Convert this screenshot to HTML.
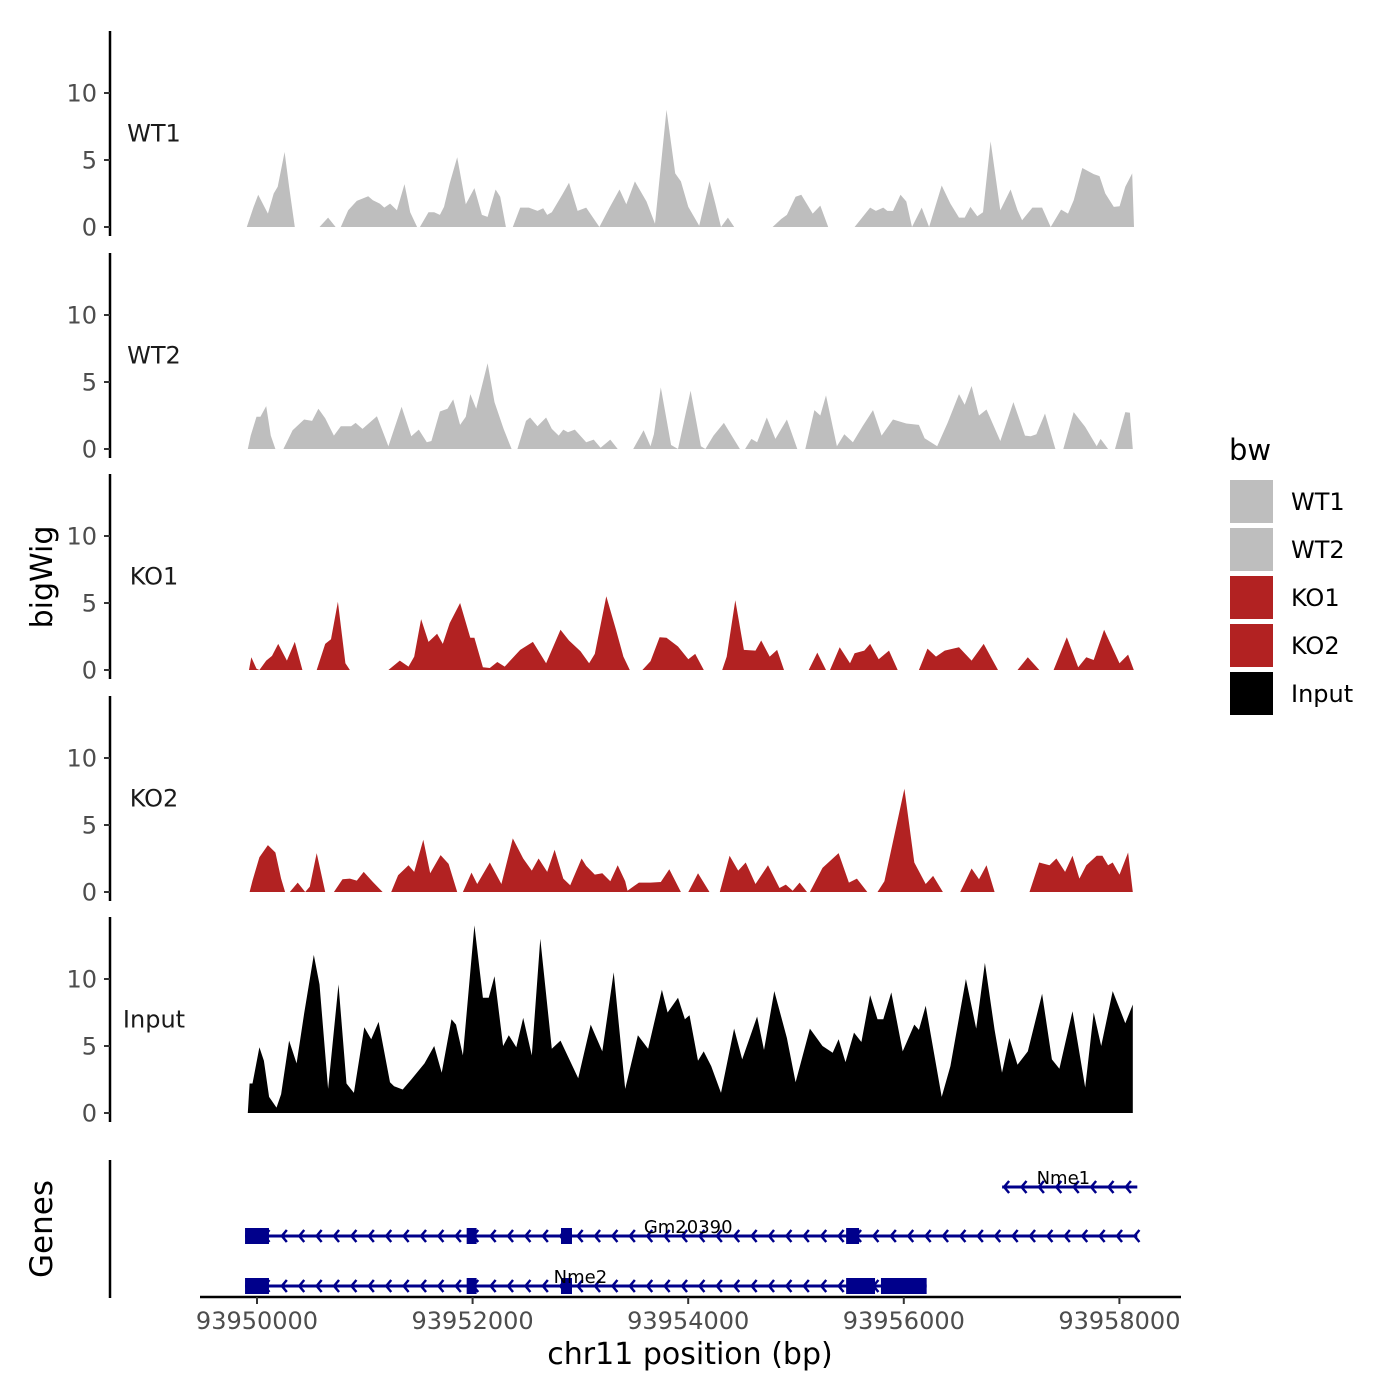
<!DOCTYPE html>
<html><head><meta charset="utf-8"><style>
html,body{margin:0;padding:0;background:#fff;}
svg{display:block;font-family:"DejaVu Sans","Liberation Sans",sans-serif;}
</style></head><body>
<svg id="chart" width="1400" height="1400" viewBox="0 0 1400 1400" xmlns="http://www.w3.org/2000/svg"></svg>
<script>
// positions: bp offsets relative to 93950000; values: coverage (null breaks a segment)
const ORIGIN = 93950000;
const trackNames = ["WT1","WT2","KO1","KO2","Input"];
const wt1Pos = [-95,-32,11,101,155,192,256,298,351,null,580,660,729,null,777,846,926,1032,1075,1139,1181,1235,1298,1368,1421,1485,null,1511,1591,1644,1697,1735,1788,1857,1937,2017,2086,2139,2213,2256,2309,null,2373,2442,2522,2602,2655,2692,2735,2831,2894,2974,3054,3176,3267,3363,3426,3506,3613,3692,3799,3879,3932,4001,4102,4198,4251,4304,4368,4427,null,4783,4863,4916,4996,5049,5155,5225,5299,null,5544,5687,5741,5810,5847,5900,5969,6023,6076,6166,6235,6352,6432,6512,6565,6618,6682,6735,6805,6895,6991,7055,7097,7193,7283,7363,7459,7523,7576,7656,7762,7815,7869,7948,8002,8055,8119,8135];
const wt1Val = [0,1.5,2.4,1.0,2.5,3.0,5.6,3.0,0,null,0,0.7,0,null,0,1.25,1.95,2.3,2.0,1.75,1.45,1.75,1.25,3.2,1.1,0,null,0,1.1,1.1,0.9,1.5,3.25,5.2,1.7,2.9,0.9,0.75,2.8,2.25,0,null,0,1.45,1.45,1.2,1.4,0.9,1.1,2.4,3.3,1.2,1.45,0,1.4,2.8,1.7,3.4,1.9,0.25,8.75,4.0,3.4,1.5,0.1,3.4,1.75,0,0.7,0,null,0,0.6,0.9,2.25,2.4,1.0,1.6,0,null,0,1.45,1.2,1.45,1.2,1.2,2.4,1.9,0,1.45,0,3.1,1.75,0.7,0.7,1.5,0.8,1.1,6.4,1.25,2.8,1.25,0.5,1.45,1.45,0,1.3,1.0,2.0,4.4,3.95,3.8,2.5,1.5,1.55,3.0,4.0,0];
const wt2Pos = [-85,-58,-5,32,85,128,171,null,245,330,437,511,570,633,713,777,873,915,979,1112,1219,1341,1431,1501,1575,1618,1697,1767,1820,1884,1937,1979,2033,2139,2203,2288,2362,null,2416,2495,2533,2602,2682,2735,2799,2841,2884,2948,3054,3123,3187,3277,3346,null,3490,3586,3650,3682,3746,3841,3905,4022,4118,4160,4235,4331,4480,null,4528,4586,4639,4729,4809,4916,5012,null,5086,5171,5225,5278,5379,5448,5528,5618,5714,5794,5900,6023,6140,6193,6310,6406,6512,6565,6629,6698,6767,6895,7017,7124,7177,7230,7310,7406,null,7480,7576,7683,7789,7826,7895,null,7959,8055,8097,8124];
const wt2Val = [0,1.0,2.4,2.4,3.2,1.0,0,null,0,1.4,2.2,2.1,3.0,2.3,1.0,1.7,1.7,1.95,1.5,2.45,0.2,3.15,0.95,1.45,0.5,0.6,2.8,3.0,3.7,1.8,2.4,4.1,3.0,6.4,3.5,1.5,0,null,0,2.1,2.35,1.7,2.35,1.5,1.0,1.45,1.25,1.45,0.5,0.7,0.1,0.7,0,null,0,1.4,0.2,1.1,4.6,0.3,0,4.35,0.2,0,1.0,1.95,0,null,0,0.75,0.5,2.35,0.75,2.2,0,null,0,2.9,2.5,4.0,0.2,1.1,0.5,1.7,2.9,1.0,2.2,1.9,1.8,0.8,0.2,1.95,4.1,3.3,4.7,2.5,2.95,0.6,3.5,1.0,0.95,1.1,2.65,0,null,0,2.75,1.65,0.2,0.75,0,null,0,2.75,2.7,0];
const ko1Pos = [-74,-53,-5,22,85,139,197,277,351,421,null,554,633,686,750,820,862,null,1219,1325,1405,1458,1522,1591,1671,1724,1788,1884,1979,2017,2096,2160,2229,2298,2442,2559,2682,2815,2894,3001,3081,3134,3240,3330,3399,3458,null,3575,3650,3735,3799,3905,4001,4065,4145,null,4315,4357,4437,4517,4624,4677,4756,4825,4889,null,5118,5198,5278,5315,5405,5501,5544,5634,5687,5767,5863,5943,null,6140,6220,6299,6379,6512,6629,6741,6874,null,7055,7150,7257,null,7390,7512,7618,7693,7762,7858,8001,8081,8134];
const ko1Val = [0,0.95,0.1,0,0.7,1.05,1.95,0.7,2.1,0,null,0,1.95,2.3,5.1,0.5,0,null,0,0.7,0.25,1.0,3.8,2.1,2.7,1.95,3.5,5.0,2.4,2.4,0.2,0.15,0.6,0.25,1.5,2.1,0.5,3.0,2.2,1.4,0.5,1.2,5.5,3.0,1.0,0,null,0,0.65,2.45,2.4,1.75,0.8,1.2,0,null,0,1.0,5.2,1.5,1.45,2.2,1.0,1.5,0,null,0,1.3,0,0,1.7,0.5,1.25,1.45,1.95,0.8,1.45,0,null,0,1.6,1.0,1.45,1.7,0.7,1.95,0,null,0,0.95,0,null,0,2.45,0.2,0.95,0.75,3.0,0.5,1.15,0];
const ko2Pos = [-69,-42,22,101,171,224,261,null,304,378,447,490,554,633,null,713,793,862,926,990,1075,1165,null,1245,1309,1405,1458,1543,1607,1703,1777,1857,1910,1990,2043,2160,2267,2373,2469,2549,2612,2692,2761,2841,2905,3011,3054,3134,3203,3277,3346,3416,3437,3543,3650,3746,3825,3932,null,4001,4091,4198,null,4293,4384,4464,4533,4624,4740,4847,4905,4969,5033,5102,5129,5246,5395,5491,5565,5661,null,5756,5820,6006,6097,6203,6272,6363,null,6523,6629,6698,6767,6842,null,7166,7256,7352,7416,7496,7565,7629,7693,7789,7842,7895,7938,8001,8081,8124];
const ko2Val = [0,0.85,2.6,3.5,2.95,1.0,0,null,0,0.7,0,0.4,2.9,0,null,0,0.95,1.0,0.85,1.5,0.75,0,null,0,1.25,2.0,1.5,3.9,1.4,2.75,2.1,0,0,1.45,0.6,2.2,0.6,4.0,2.5,1.6,2.5,1.5,3.15,1.0,0.5,2.5,1.95,1.3,1.4,0.8,2.0,0.8,0.1,0.7,0.7,0.75,1.7,0,null,0,1.4,0,null,0,2.7,1.6,2.2,0.6,2.0,0.3,0.55,0.1,0.7,0,0,1.8,2.9,0.7,1.0,0,null,0,0.8,7.7,2.2,0.6,1.2,0,null,0,1.75,0.95,2.0,0,null,0,2.2,2.0,2.5,1.5,2.7,1.0,2.0,2.7,2.7,2.0,2.2,1.3,2.95,0];
const inputPos = [-85,-69,-42,22,64,112,181,224,298,367,437,527,580,660,756,830,899,995,1059,1128,1234,1272,1352,1431,1554,1644,1713,1804,1846,1910,2017,2096,2149,2203,2283,2336,2405,2469,2549,2628,2735,2815,2868,2980,3096,3203,3309,3416,3533,3628,3756,3809,3905,3969,4012,4091,4144,4213,4304,4426,4501,4639,4703,4799,4916,4996,5129,5246,5340,5395,5459,5538,5607,5687,5756,5810,5884,5990,6097,6140,6203,6352,6432,6576,6672,6752,6842,6911,6980,7055,7150,7283,7374,7443,7565,7683,7762,7831,7938,8055,8124,8124];
const inputVal = [0,2.2,2.2,4.9,3.9,1.2,0.4,1.4,5.4,3.7,7.4,11.8,9.6,1.8,9.6,2.2,1.5,6.4,5.5,6.8,2.3,2.0,1.75,2.5,3.7,5.0,3.0,7.0,6.6,4.3,14.0,8.6,8.6,10.2,5.0,5.8,4.9,7.1,4.3,13.0,4.8,5.4,4.5,2.6,6.6,4.6,10.5,1.8,5.8,4.8,9.2,7.5,8.6,7.0,7.3,3.9,4.6,3.5,1.5,6.3,4.0,7.2,4.7,9.1,5.6,2.3,6.3,5.0,4.5,5.5,3.8,6.0,5.3,8.8,7.0,7.0,9.0,4.6,6.6,6.2,8.0,1.2,3.5,10.0,6.3,11.2,6.2,3.0,5.6,3.6,4.6,8.9,4.0,3.3,7.6,1.9,7.5,5.0,9.1,6.7,8.1,0];
const trackPos = [wt1Pos, wt2Pos, ko1Pos, ko2Pos, inputPos];
const trackVal = [wt1Val, wt2Val, ko1Val, ko2Val, inputVal];
const trackColors = ["#bebebe","#bebebe","#b22222","#b22222","#000000"];
const yTicks = [0,5,10];
const xTicks = [0,2000,4000,6000,8000];
const xTickLabels = ["93950000","93952000","93954000","93956000","93958000"];
const geneNames = ["Nme1","Gm20390","Nme2"];
const geneStart = [6912,-111,-111];
const geneEnd = [8166,8166,6212];
const geneExons = [[], [[-111,111],[1945,2037],[2820,2922],[5465,5585]], [[-111,111],[1945,2037],[2820,2922],[5465,5733],[5788,6212]]];
const geneLabelPos = [7480,4000,3000];
const legendLabels = ["WT1","WT2","KO1","KO2","Input"];

const NS = "http://www.w3.org/2000/svg";
const svg = document.getElementById("chart");
function el(tag, attrs, parent){ const e=document.createElementNS(NS,tag); for(const k in attrs) e.setAttribute(k,attrs[k]); (parent||svg).appendChild(e); return e; }
function xScale(o){ return 257 + o*0.1078; }
const bases = [227,449,670,892,1113];
const axTop = [31,253,474,696,917];
function yScale(t,v){ return bases[t] - v*13.4; }

for(let t=0;t<5;t++){
  const g = el("g",{});
  
  
  const ax = el("line",{x1:110,x2:110,y1:axTop[t],y2:bases[t]+9,stroke:"#000","stroke-width":2.5},g);
  
  
  yTicks.forEach(v=>{
    const y=yScale(t,v);
    const tk = el("line",{x1:104,x2:110,y1:y,y2:y,stroke:"#333","stroke-width":2},g);
    
    
    const tl = el("text",{x:97,y:y+8.5,"text-anchor":"end","font-size":24,fill:"#4d4d4d"},g);
    tl.textContent = String(v);
    
    
  });
  const lab = el("text",{x:154,y:yScale(t,7)+8.5,"text-anchor":"middle","font-size":24,fill:"#1a1a1a"},g);
  lab.textContent = trackNames[t];
  
  
  const P = trackPos[t], V = trackVal[t];
  let seg=[];
  const flush=()=>{
    if(seg.length>1){
      let d = "M"+xScale(seg[0][0]).toFixed(1)+","+bases[t];
      seg.forEach(p=>{ d+=" L"+xScale(p[0]).toFixed(1)+","+yScale(t,p[1]).toFixed(1); });
      d += " L"+xScale(seg[seg.length-1][0]).toFixed(1)+","+bases[t]+" Z";
      const a = el("path",{d:d,fill:trackColors[t]},g);
      
      
    }
    seg=[];
  };
  for(let i=0;i<P.length;i++){ if(P[i]===null||V[i]===null){flush();} else seg.push([P[i],V[i]]); }
  flush();
}

const yt = el("text",{x:0,y:0,transform:"translate(52,577) rotate(-90)","text-anchor":"middle","font-size":30,fill:"#000"});
yt.textContent="bigWig";



const gp = el("g",{});


const gax = el("line",{x1:110,x2:110,y1:1160,y2:1298,stroke:"#000","stroke-width":2.5},gp);


const gt = el("text",{x:0,y:0,transform:"translate(52,1229) rotate(-90)","text-anchor":"middle","font-size":31,fill:"#000"},gp);
gt.textContent="Genes";


const rowY=[1187,1236,1286];
const blue="#00008b";
for(let gi=0;gi<3;gi++){
  const g = el("g",{},gp);
  
  
  const y=rowY[gi], x1=xScale(geneStart[gi]), x2=xScale(geneEnd[gi]);
  el("line",{x1:x1,x2:x2,y1:y,y2:y,stroke:blue,"stroke-width":3},g);
  for(let x=x1+2;x<x2-2;x+=17.4){
    el("path",{d:`M${x+5},${y-6} L${x},${y} L${x+5},${y+6}`,fill:"none",stroke:blue,"stroke-width":2.5},g);
  }
  geneExons[gi].forEach(ex=>{
    const r = el("rect",{x:xScale(ex[0]),y:y-8,width:xScale(ex[1])-xScale(ex[0]),height:16,fill:blue},g);
    
    
  });
  const tl = el("text",{x:xScale(geneLabelPos[gi]),y:y-3,"text-anchor":"middle","font-size":18,fill:"#000"},g);
  tl.textContent = geneNames[gi];
  
  
}
const xa = el("line",{x1:200,x2:1181,y1:1297,y2:1297,stroke:"#000","stroke-width":2.5});


xTicks.forEach((v,i)=>{
  const x=xScale(v);
  const tk = el("line",{x1:x,x2:x,y1:1297,y2:1304,stroke:"#333","stroke-width":2});
  
  
  const tl = el("text",{x:x,y:1329,"text-anchor":"middle","font-size":24,fill:"#4d4d4d"});
  tl.textContent = xTickLabels[i];
  
  
});
const xt = el("text",{x:690,y:1364,"text-anchor":"middle","font-size":30,fill:"#000"});
xt.textContent="chr11 position (bp)";



const lg = el("g",{});


const lt = el("text",{x:1229,y:460,"font-size":29,fill:"#000"},lg);
lt.textContent="bw";


legendLabels.forEach((n,i)=>{
  const e = el("g",{},lg);
  
  
  el("rect",{x:1230,y:480+i*48,width:43,height:43,fill:trackColors[i]},e);
  const tx = el("text",{x:1291,y:510+i*48,"font-size":24,fill:"#000"},e);
  tx.textContent = n;
});
</script>
</body></html>
